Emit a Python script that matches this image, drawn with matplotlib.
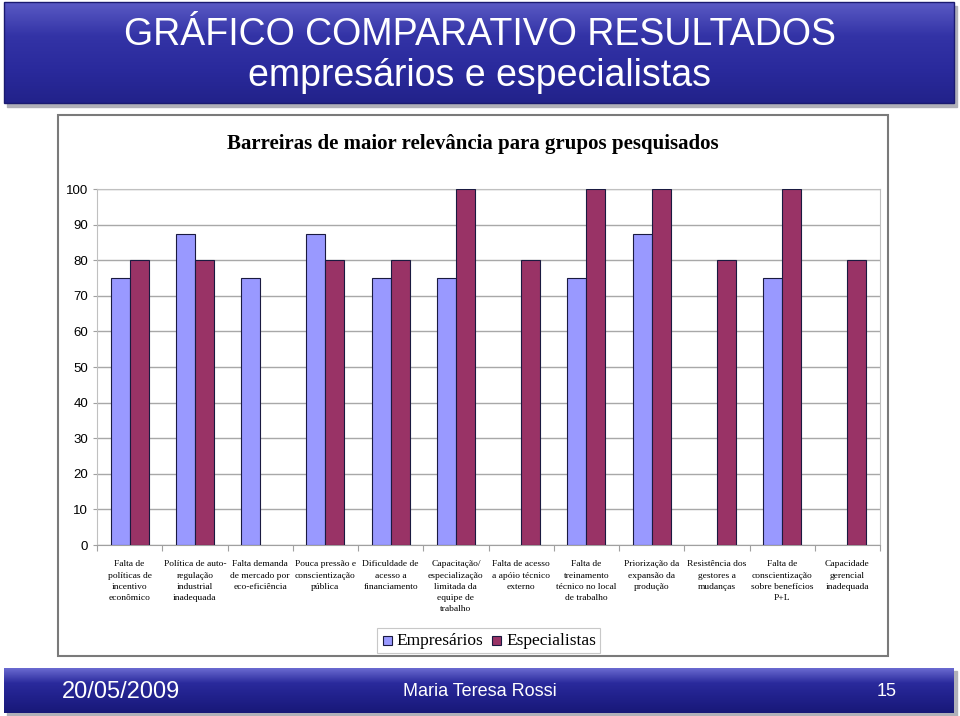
import numpy as np
import matplotlib
matplotlib.use("Agg")
import matplotlib.pyplot as plt
from matplotlib.patches import Rectangle
from matplotlib.colors import LinearSegmentedColormap

# data
categorias = [
    "Falta de\npolíticas de\nincentivo\neconômico",
    "Política de auto-\nregulação\nindustrial\ninadequada",
    "Falta demanda\nde mercado por\neco-eficiência",
    "Pouca pressão e\nconscientização\npública",
    "Dificuldade de\nacesso a\nfinanciamento",
    "Capacitação/\nespecialização\nlimitada da\nequipe de\ntrabalho",
    "Falta de acesso\na apóio técnico\nexterno",
    "Falta de\ntreinamento\ntécnico no local\nde trabalho",
    "Priorização da\nexpansão da\nprodução",
    "Resistência dos\ngestores a\nmudanças",
    "Falta de\nconscientização\nsobre benefícios\nP+L",
    "Capacidade\ngerencial\ninadequada",
]
empresarios = [75, 87.5, 75, 87.5, 75, 75, 0, 75, 87.5, 0, 75, 0]
especialistas = [80, 80, 0, 80, 80, 100, 80, 100, 100, 80, 100, 80]
y_ticks = [0, 10, 20, 30, 40, 50, 60, 70, 80, 90, 100]

W, H = 960, 716
fig = plt.figure(figsize=(W / 100, H / 100), dpi=100)

# background layer in pixel coordinates
bg = fig.add_axes([0, 0, 1, 1])
bg.set_xlim(0, W)
bg.set_ylim(H, 0)
bg.axis("off")

cmap_top = LinearSegmentedColormap.from_list("top", ["#5a5ac4", "#3333a6", "#2a2a9c", "#22228a"])
grad = np.linspace(0, 1, 100).reshape(-1, 1)
# shadows
bg.add_patch(Rectangle((7, 6), 950, 101, color="#b0b0b8", zorder=0))
bg.imshow(grad, cmap=cmap_top, aspect="auto", extent=(4, 954, 103, 2), zorder=1)
bg.add_patch(Rectangle((4, 2), 950, 101, fill=False, ec="#1a1a70", lw=1, zorder=2))

cmap_bot = LinearSegmentedColormap.from_list("bot", ["#6a6ad0", "#2a2a9c", "#20208a", "#181878"])
bg.add_patch(Rectangle((7, 671), 950, 45, color="#b0b0b8", zorder=0))
bg.imshow(grad, cmap=cmap_bot, aspect="auto", extent=(4, 954, 713, 668), zorder=1)

bg.text(480, 35, "GRÁFICO COMPARATIVO RESULTADOS", color="white", fontsize=27,
        family="Liberation Sans", ha="center", va="center", zorder=3)
bg.text(480, 76, "empresários e especialistas", color="white", fontsize=27,
        family="Liberation Sans", ha="center", va="center", zorder=3)
bg.text(62, 692, "20/05/2009", color="white", fontsize=17, family="Liberation Sans",
        ha="left", va="center", zorder=3)
bg.text(480, 692, "Maria Teresa Rossi", color="white", fontsize=13, family="Liberation Sans",
        ha="center", va="center", zorder=3)
bg.text(897, 692, "15", color="white", fontsize=13, family="Liberation Sans",
        ha="right", va="center", zorder=3)

# chart frame
bg.add_patch(Rectangle((58, 115), 830, 541, fill=False, ec="#7a7a7a", lw=1.5, zorder=2))
bg.text(473, 144, "Barreiras de maior relevância para grupos pesquisados", fontsize=15,
        fontweight="bold", family="Liberation Serif", ha="center", va="center", zorder=3)

# plot area
left, right, top, bottom = 97, 880, 189, 545
ax = fig.add_axes([left / W, (H - bottom) / H, (right - left) / W, (bottom - top) / H])
ax.set_facecolor("none")

n = len(categorias)
x = np.arange(n)
bw = 0.29
for i in range(n):
    if empresarios[i] > 0:
        ax.bar(x[i] - bw / 2, empresarios[i], bw, color="#9999ff", edgecolor="#1a1a40",
               lw=0.8, zorder=3)
    if especialistas[i] > 0:
        ax.bar(x[i] + bw / 2, especialistas[i], bw, color="#993366", edgecolor="#1a1a40",
               lw=0.8, zorder=3)

ax.set_xlim(-0.5, n - 0.5)
ax.set_ylim(0, 100)
ax.set_yticks(y_ticks)
ax.set_yticklabels([str(v) for v in y_ticks], family="Liberation Sans", fontsize=9.5)
ax.tick_params(axis="y", length=3, color="#a0a0a0", pad=3.5)
ax.grid(axis="y", color="#a8a8a8", lw=1, zorder=0)

ax.set_xticks(np.arange(n + 1) - 0.5)
ax.set_xticklabels([])
ax.tick_params(axis="x", which="major", length=4, color="#a0a0a0")
ax.set_xticks(x, minor=True)
ax.set_xticklabels(categorias, minor=True, family="Liberation Serif", fontsize=6.8,
                   linespacing=1.55)
ax.tick_params(axis="x", which="minor", length=0, pad=11)

for s in ["top", "right", "left"]:
    ax.spines[s].set_color("#c0c0c0")
ax.spines["bottom"].set_color("#a0a0a0")

# legend
bg.add_patch(Rectangle((377, 628), 223, 25, fill=False, ec="#c8c8c8", lw=0.8, zorder=2))
bg.add_patch(Rectangle((383, 636), 9, 9, fc="#9999ff", ec="#1a1a40", lw=0.8, zorder=3))
bg.text(396, 641, "Empresários", family="Liberation Serif", fontsize=12.5, ha="left",
        va="center", zorder=3)
bg.add_patch(Rectangle((492, 636), 9, 9, fc="#993366", ec="#1a1a40", lw=0.8, zorder=3))
bg.text(506, 641, "Especialistas", family="Liberation Serif", fontsize=12.5, ha="left",
        va="center", zorder=3)

fig.savefig("out.png", dpi=100)
